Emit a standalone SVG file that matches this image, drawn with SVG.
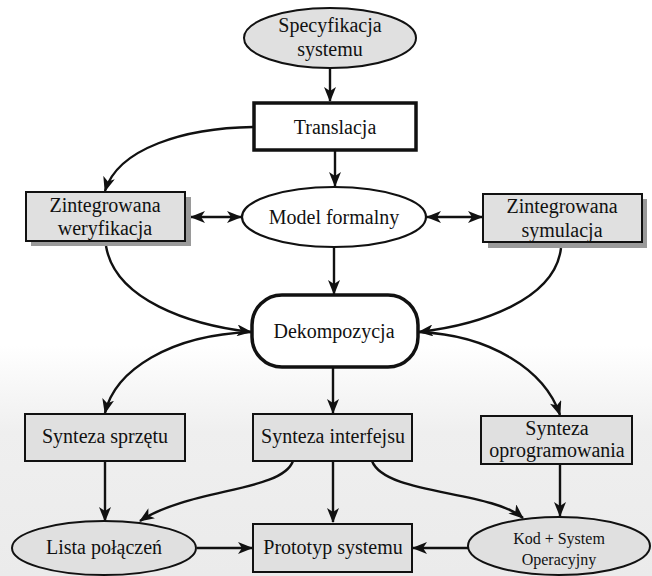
<svg xmlns="http://www.w3.org/2000/svg" width="652" height="576" viewBox="0 0 652 576" font-family="'Liberation Serif', 'Times New Roman', serif">
<style>
text{font-family:"Liberation Serif","Times New Roman",serif;font-size:20px;fill:#111;text-anchor:middle}
.small{font-size:16px}
.box{fill:#e0e0e0;stroke:#111;stroke-width:2}
.wbox{fill:#fff;stroke:#111;stroke-width:3.5}
.shadow{fill:#9a9a9a}
.ell{fill:#e0e0e0;stroke:#111;stroke-width:2}
.well{fill:#fff;stroke:#111;stroke-width:2.2}
.c{fill:none;stroke:#111;stroke-width:2.4}
.a{marker-end:url(#ah)}
.b{marker-start:url(#ahs);marker-end:url(#ah)}
</style>
<defs>
<marker id="ah" markerWidth="16" markerHeight="12" refX="14" refY="6" orient="auto" markerUnits="userSpaceOnUse">
<path d="M0,0 L15,6 L0,12 L4,6 z" fill="#111"/>
</marker>
<marker id="ahs" markerWidth="16" markerHeight="12" refX="1" refY="6" orient="auto" markerUnits="userSpaceOnUse">
<path d="M15,0 L0,6 L15,12 L11,6 z" fill="#111"/>
</marker>
<linearGradient id="bg" x1="0" y1="0" x2="0" y2="1">
<stop offset="0" stop-color="#ffffff"/>
<stop offset="0.6" stop-color="#ffffff"/>
<stop offset="0.75" stop-color="#efefef"/>
<stop offset="1" stop-color="#ebebeb"/>
</linearGradient>
</defs>
<rect x="0" y="0" width="652" height="576" fill="url(#bg)"/>

<g id="connectors">
<path class="c a" d="M330,68 L330,101"/>
<path class="c a" d="M253,127 C185,128 118,148 105,191"/>
<path class="c a" d="M335,150 L335,186"/>
<path class="c b" d="M191,217 L241,217"/>
<path class="c b" d="M427,217 L482,217"/>
<path class="c a" d="M334,247 L334,294"/>
<path class="c a" d="M106,246 C115,300 190,325 251,332"/>
<path class="c a" d="M561,248 C555,300 480,325 419,332"/>
<path class="c a" d="M251,332 C170,335 115,370 105,413"/>
<path class="c a" d="M333,367 L333,413"/>
<path class="c a" d="M419,332 C490,335 545,370 560,415"/>
<path class="c a" d="M105,461 L105,521"/>
<path class="c a" d="M293,461 C282,492 190,488 140,521"/>
<path class="c a" d="M333,461 L333,522"/>
<path class="c a" d="M372,461 C385,495 490,490 523,518"/>
<path class="c a" d="M560,464 L560,516"/>
<path class="c a" d="M197,548 L252,548"/>
<path class="c a" d="M468,548 L413,548"/>
</g>

<g id="spec">
<ellipse class="ell" cx="330" cy="38" rx="86" ry="30"/>
<text x="330" y="32">Specyfikacja</text>
<text x="330" y="56">systemu</text>
</g>

<g id="translacja">
<rect class="wbox" x="254" y="103" width="162" height="47"/>
<text x="335" y="134">Translacja</text>
</g>

<g id="weryfikacja">
<rect class="shadow" x="31" y="197" width="160" height="49"/>
<rect class="box" x="26" y="192" width="159" height="49"/>
<text x="105" y="212">Zintegrowana</text>
<text x="105" y="235">weryfikacja</text>
</g>

<g id="model">
<ellipse class="well" cx="334" cy="217" rx="92" ry="30"/>
<text x="334" y="224">Model formalny</text>
</g>

<g id="symulacja">
<rect class="shadow" x="488" y="199" width="159" height="49"/>
<rect class="box" x="483" y="194" width="159" height="48"/>
<text x="562" y="213">Zintegrowana</text>
<text x="562" y="237">symulacja</text>
</g>

<g id="dekompozycja">
<rect class="wbox" x="252" y="295" width="166" height="72" rx="30" ry="30"/>
<text x="334" y="338">Dekompozycja</text>
</g>

<g id="sprzet">
<rect class="box" x="25" y="414" width="160" height="47"/>
<text x="105" y="443">Synteza sprzętu</text>
</g>

<g id="interfejs">
<rect class="box" x="253" y="414" width="159" height="47"/>
<text x="333" y="443">Synteza interfejsu</text>
</g>

<g id="oprogramowanie">
<rect class="box" x="481" y="416" width="151" height="48"/>
<text x="557" y="435">Synteza</text>
<text x="557" y="457">oprogramowania</text>
</g>

<g id="lista">
<ellipse class="ell" cx="104" cy="548" rx="92" ry="27"/>
<text x="104" y="554">Lista połączeń</text>
</g>

<g id="prototyp">
<rect class="box" x="253" y="524" width="159" height="48"/>
<text x="333" y="554">Prototyp systemu</text>
</g>

<g id="kod">
<ellipse class="ell" cx="559" cy="546" rx="91" ry="29"/>
<text class="small" x="559" y="544">Kod + System</text>
<text class="small" x="559" y="565">Operacyjny</text>
</g>
</svg>
